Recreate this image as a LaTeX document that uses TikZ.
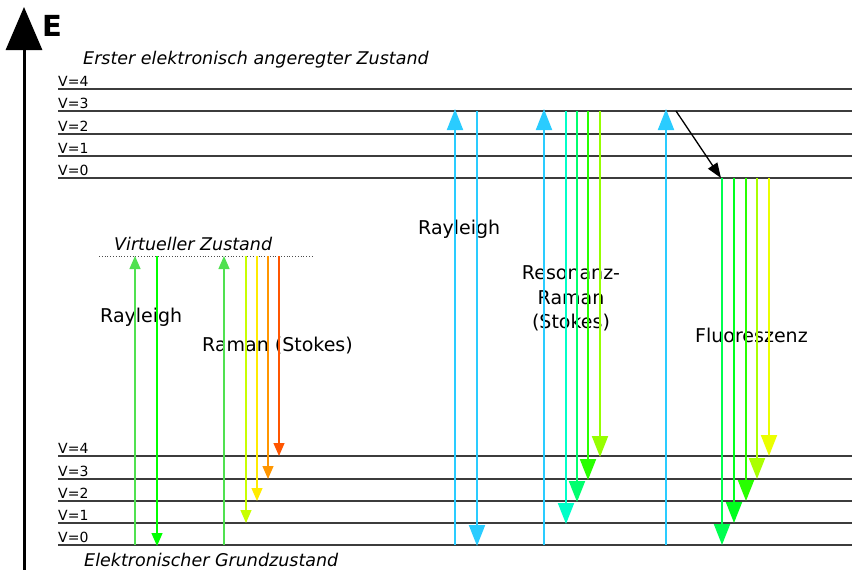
\documentclass[tikz,border=0pt]{standalone}
\usepackage{fontspec}
\setmainfont{DejaVu Sans}
\usetikzlibrary{arrows.meta}
\definecolor{lev}{RGB}{60,60,60}
\definecolor{cyanA}{RGB}{42,204,255}
\definecolor{gUp}{RGB}{80,225,80}
\definecolor{gBright}{RGB}{0,255,0}
\definecolor{rYG}{RGB}{200,255,0}
\definecolor{rY}{RGB}{255,235,0}
\definecolor{rO}{RGB}{255,150,0}
\definecolor{rR}{RGB}{255,85,0}
\definecolor{rrA}{RGB}{0,255,200}
\definecolor{rrB}{RGB}{0,255,110}
\definecolor{rrC}{RGB}{40,255,0}
\definecolor{rrD}{RGB}{150,255,0}
\definecolor{fA}{RGB}{0,255,80}
\definecolor{fB}{RGB}{0,255,30}
\definecolor{fC}{RGB}{40,255,0}
\definecolor{fD}{RGB}{170,255,0}
\definecolor{fE}{RGB}{235,255,0}
\tikzset{
  level/.style={draw=lev, line width=1.4pt},
  vlab/.style={anchor=base west, font=\fontsize{14}{14}\selectfont, inner sep=0pt},
  bigl/.style={anchor=base west, font=\fontsize{19}{19}\selectfont, inner sep=0pt},
  itl/.style={anchor=base west, font=\fontsize{17.5}{17.5}\selectfont\itshape, inner sep=0pt},
  smallarr/.style={line width=1.2pt, -{Triangle[length=13pt,width=11pt]}},
  bigarr/.style={line width=2pt, -{Triangle[length=21pt,width=16pt]}},
}
\begin{document}
\begin{tikzpicture}[x=1pt,y=-1pt]
\useasboundingbox (0,0) rectangle (852,570);
% axis
\coordinate (axb) at (24,570);
\coordinate (axt) at (24,7);
\draw[line width=3pt, -{Triangle[length=43pt,width=36pt]}] (axb) -- (axt);
\node[anchor=base west, inner sep=0pt, font=\fontsize{29}{29}\selectfont\bfseries] (E) at (42,36) {E};
% texts
\node[itl] (t1) at (83,64) {Erster elektronisch angeregter Zustand};
\node[itl] (t2) at (114,250) {Virtueller Zustand};
\node[itl] (t3) at (84,566) {Elektronischer Grundzustand};
\node[bigl] (l1) at (100,322) {Rayleigh};
\node[bigl] (l2) at (202,351) {Raman (Stokes)};
\node[bigl] (l3) at (418,234) {Rayleigh};
\node[bigl, anchor=base] (l4) at (571,279) {Resonanz-};
\node[bigl, anchor=base] (l5) at (571,304) {Raman};
\node[bigl, anchor=base] (l6) at (571,328) {(Stokes)};
\node[bigl] (l7) at (695,342) {Fluoreszenz};
% upper levels
\foreach \v/\y in {4/89,3/111,2/134,1/156,0/178}{
  \node[vlab] (uv\v) at (58,\y-3) {V=\v};
  \draw[level] (58,\y) -- (852,\y);
}
% lower levels
\foreach \v/\y in {4/456,3/479,2/501,1/523,0/545}{
  \node[vlab] (lv\v) at (58,\y-3) {V=\v};
  \draw[level] (58,\y) -- (852,\y);
}
% virtual state
\draw[dotted, line width=0.8pt, black!70] (99,256) -- (312,256);
% left Rayleigh
\draw[smallarr, gUp] (135,545) -- (135,256);
\draw[smallarr, gBright] (157,256) -- (157,546);
% Raman
\draw[smallarr, gUp] (224,545) -- (224,256);
\draw[smallarr, rYG] (246,256) -- (246,523);
\draw[smallarr, rY] (257,256) -- (257,501);
\draw[smallarr, rO] (268,256) -- (268,479);
\draw[smallarr, rR] (279,256) -- (279,456);
% resonance Rayleigh
\draw[bigarr, cyanA] (455,545) -- (455,109);
\draw[bigarr, cyanA] (477,111) -- (477,546);
% resonance Raman
\draw[bigarr, cyanA] (544,545) -- (544,109);
\draw[bigarr, rrA] (566,111) -- (566,524);
\draw[bigarr, rrB] (577,111) -- (577,502);
\draw[bigarr, rrC] (588,111) -- (588,480);
\draw[bigarr, rrD] (600,111) -- (600,457);
% fluorescence
\draw[bigarr, cyanA] (666,545) -- (666,109);
\draw[line width=1.3pt, black, -{Triangle[length=15pt,width=11pt]}] (676,111) -- (721,178);
\draw[bigarr, fA] (722,178) -- (722,545);
\draw[bigarr, fB] (734,178) -- (734,523);
\draw[bigarr, fC] (746,178) -- (746,501);
\draw[bigarr, fD] (757,178) -- (757,479);
\draw[bigarr, fE] (769,178) -- (769,456);
\end{tikzpicture}
\end{document}
